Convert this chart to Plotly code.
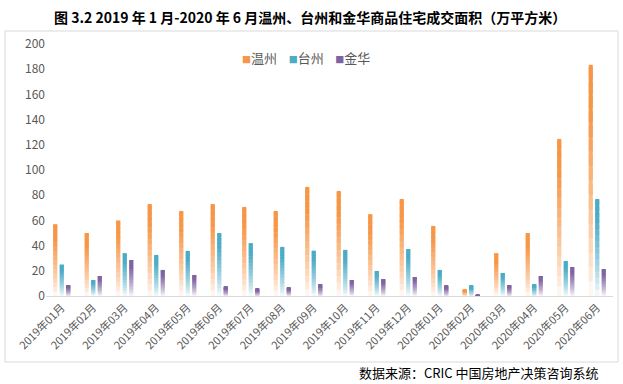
import plotly.graph_objects as go

months = ["2019年01月", "2019年02月", "2019年03月", "2019年04月", "2019年05月", "2019年06月",
          "2019年07月", "2019年08月", "2019年09月", "2019年10月", "2019年11月", "2019年12月",
          "2020年01月", "2020年02月", "2020年03月", "2020年04月", "2020年05月", "2020年06月"]
wenzhou = [57, 50, 60, 73, 67.5, 73, 70.7, 67.5, 86.6, 83.4, 65, 77, 55.6, 4.8, 34, 50, 124.7, 183.5]
taizhou = [25, 12.7, 34, 32.6, 35.8, 50, 42, 39, 36, 36.6, 19.9, 37.3, 20.7, 8, 18.3, 9.5, 27.8, 77]
jinhua = [8.7, 15.9, 28.6, 20.7, 16.7, 7.2, 5.6, 6.4, 9.5, 12.7, 13.5, 15.1, 8, 0.8, 8.7, 15.9, 23, 21.4]

series = [("温州", wenzhou, (247, 150, 70)),
          ("台州", taizhou, (75, 172, 198)),
          ("金华", jinhua, (128, 100, 162))]

N = 16
fig = go.Figure()

def mix(c, s):
    return "rgb(%d,%d,%d)" % tuple(round(255 * (1 - s) + ci * s) for ci in c)

for gi, (name, vals, col) in enumerate(series):
    for k in range(N):
        t = (k + 0.5) / N
        s = min(1.0, t / 0.8) ** 0.75
        frac = min(1.8 / N, 1 - k / N)
        fig.add_trace(go.Bar(
            x=months, y=[v * frac for v in vals], base=[v * k / N for v in vals],
            offsetgroup=str(gi), marker=dict(color=mix(col, s), line=dict(width=0)),
            showlegend=False, hoverinfo="skip"))

L, R, T, B = 46, 10, 44, 88
W, H = 623, 384
pw, ph = W - L - R, H - T - B

def px(x):
    return (x - L) / pw

def py(y):
    return (H - B - y) / ph

def hexc(c):
    return "#%02X%02X%02X" % c

legend_text = "&nbsp;&nbsp;&nbsp;&nbsp;".join(
    "<span style='color:%s;font-size:9px'>■</span>%s" % (hexc(col), name)
    for name, vals, col in series)

fig.update_layout(
    width=W, height=H, margin=dict(l=L, r=R, t=T, b=B, autoexpand=False),
    paper_bgcolor="white", plot_bgcolor="white",
    barmode="group", bargap=0.38, bargroupgap=0.38, showlegend=False,
    font=dict(family="Noto Sans CJK SC, sans-serif", color="#595959", size=12),
    xaxis=dict(showgrid=False, showline=True, linecolor="#D9D9D9", linewidth=1,
               tickangle=-45, tickfont=dict(size=11, color="#595959"), ticks=""),
    yaxis=dict(range=[0, 200], dtick=20, showgrid=False, showline=False, zeroline=False,
               tickfont=dict(size=12, color="#595959"), ticks=""),
    shapes=[dict(type="rect", xref="paper", yref="paper",
                 x0=px(5), x1=px(618), y0=py(362), y1=py(31),
                 line=dict(color="#D9D9D9", width=1), layer="below")],
    annotations=[
        dict(text="<b>图 3.2 2019 年 1 月-2020 年 6 月温州、台州和金华商品住宅成交面积（万平方米）</b>",
             xref="paper", yref="paper", x=px(310), y=py(17), xanchor="center", yanchor="middle",
             showarrow=False, font=dict(size=14, color="#000000",
                                        family="Noto Sans CJK SC, sans-serif")),
        dict(text=legend_text, xref="paper", yref="paper", x=px(306), y=py(57),
             xanchor="center", yanchor="middle", showarrow=False,
             font=dict(size=13, color="#595959", family="Noto Sans CJK SC, sans-serif")),
        dict(text="数据来源：CRIC 中国房地产决策咨询系统",
             xref="paper", yref="paper", x=px(601), y=py(372), xanchor="right", yanchor="middle",
             showarrow=False, font=dict(size=13, color="#000000",
                                        family="Noto Sans CJK SC, sans-serif")),
    ],
)

fig.write_html("out.html", config={"displayModeBar": False},
               post_script="document.body.style.margin='0';")
